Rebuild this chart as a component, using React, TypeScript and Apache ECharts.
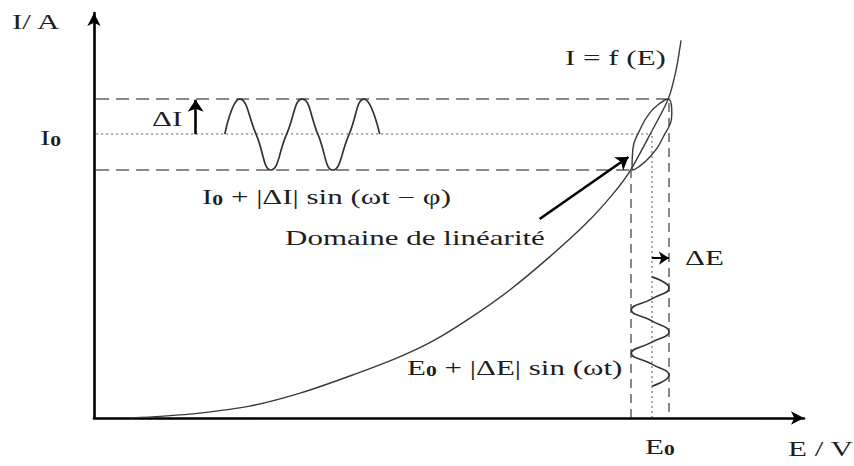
import React, { useEffect, useRef } from "react";
import * as echarts from "echarts";

// ---------- data (arbitrary units along E and I axes) ----------
const AXIS_E_MAX = 99.9;
const AXIS_I_MAX = 99.3;

// operating point and perturbation bounds
const E_LOW = 75.5;
const E0 = 78.5;
const E_HIGH = 80.9;
const I_LOW = 60.8;
const I0 = 69.6;
const I_HIGH = 78.2;

// I = f(E) characteristic
const curveE = [5.1, 9.3, 14.9, 21.9, 29.0, 36.0, 43.0, 47.7, 52.9, 58.5, 64.1, 69.3, 73.0, 75.5, 78.2, 80.8, 81.9, 82.6];
const curveI = [0.0, 0.4, 1.2, 2.9, 6.1, 10.3, 15.0, 18.9, 24.5, 31.4, 39.5, 47.8, 54.9, 60.8, 69.4, 78.2, 85.3, 92.6];

// current response wave (horizontal)
const respE = [18.4, 20.5, 22.8, 24.9, 27.1, 29.3, 31.5, 33.6, 35.9, 38.0, 40.2];
const respI = [69.6, 78.2, 69.6, 60.8, 69.6, 78.2, 69.6, 60.8, 69.6, 78.2, 69.6];

// potential perturbation wave (vertical)
const pertE = [78.5, 80.9, 78.5, 75.6, 78.5, 80.9, 78.5, 75.6, 78.5, 80.9, 78.5];
const pertI = [34.6, 31.9, 29.2, 26.5, 23.8, 21.1, 18.6, 15.9, 13.2, 10.5, 7.8];

// Lissajous loop
const loopE = [75.7, 75.8, 76.8, 78.2, 79.9, 80.8, 81.3, 80.0, 78.2, 76.4, 75.7];
const loopI = [60.8, 65.7, 70.6, 74.8, 77.5, 78.2, 74.8, 68.6, 64.0, 61.3, 60.8];

// annotation arrows [E1, I1, E2, I2]
const arrowDomaine = [62.7, 48.8, 75.2, 64.0];
const arrowDeltaI = [14.3, 69.6, 14.3, 78.0];
const arrowDeltaE = [78.5, 39.2, 80.9, 39.2];

const zip = (xs: number[], ys: number[]) => xs.map((x, i) => [x, ys[i]]);

const FONT = '"Liberation Serif", "Times New Roman", serif';
const FS = 20;
const SX = 1.55;
const INK = "#1e1e1e";

const richStyles = {
  n: { fontSize: FS, fontFamily: FONT, fill: INK, padding: [0, 0, 6, 0] },
  s: { fontSize: 14, fontFamily: FONT, fill: INK, fontWeight: "bold" as const },
};

function label(text: string, x: number, y: number) {
  return {
    type: "text",
    x,
    y,
    scaleX: SX,
    silent: true,
    style: {
      text,
      fill: INK,
      fontSize: FS,
      fontFamily: FONT,
      align: "left",
      verticalAlign: "middle",
      rich: richStyles,
    },
  };
}

export default function App() {
  const ref = useRef<HTMLDivElement>(null);

  useEffect(() => {
    if (!ref.current) return;
    const chart = echarts.init(ref.current, undefined, { renderer: "svg" });

    const thin = { color: "#3a3a3a", width: 1.4 };
    const guide = { color: "#111", width: 2 };

    chart.setOption({
      animation: false,
      backgroundColor: "#fff",
      grid: { left: 94, right: 50, top: 13, bottom: 48 },
      xAxis: {
        type: "value",
        min: 0,
        max: AXIS_E_MAX,
        axisLine: {
          show: true,
          onZero: false,
          symbol: ["none", "arrow"],
          symbolSize: [10, 13],
          lineStyle: { color: "#000", width: 2.6 },
        },
        axisTick: { show: false },
        axisLabel: { show: false },
        splitLine: { show: false },
      },
      yAxis: {
        type: "value",
        min: 0,
        max: AXIS_I_MAX,
        axisLine: {
          show: true,
          onZero: false,
          symbol: ["none", "arrow"],
          symbolSize: [10, 13],
          lineStyle: { color: "#000", width: 2.6 },
        },
        axisTick: { show: false },
        axisLabel: { show: false },
        splitLine: { show: false },
      },
      series: [
        {
          name: "I = f(E)",
          type: "line",
          data: zip(curveE, curveI),
          smooth: 0.25,
          showSymbol: false,
          lineStyle: thin,
        },
        {
          name: "loop",
          type: "line",
          data: zip(loopE, loopI),
          smooth: 0.5,
          showSymbol: false,
          lineStyle: thin,
        },
        {
          name: "response",
          type: "line",
          data: zip(respE, respI),
          smooth: 0.5,
          showSymbol: false,
          lineStyle: { color: "#333", width: 1.7 },
        },
        {
          name: "perturbation",
          type: "line",
          data: zip(pertE, pertI),
          smooth: 0.5,
          showSymbol: false,
          lineStyle: { color: "#333", width: 1.6 },
        },
        {
          type: "lines",
          coordinateSystem: "cartesian2d",
          silent: true,
          lineStyle: { ...guide, type: [13, 7] },
          data: [
            { coords: [[0.3, I_HIGH], [E_HIGH, I_HIGH]] },
            { coords: [[0.3, I_LOW], [E_LOW, I_LOW]] },
          ],
        },
        {
          type: "lines",
          coordinateSystem: "cartesian2d",
          silent: true,
          lineStyle: { ...guide, type: [9, 6] },
          data: [
            { coords: [[E_LOW, 0], [E_LOW, I_LOW]] },
            { coords: [[E_HIGH, 1.5], [E_HIGH, I_HIGH]] },
          ],
        },
        {
          type: "lines",
          coordinateSystem: "cartesian2d",
          silent: true,
          lineStyle: { color: "#222", width: 1.5, type: [2, 3] },
          data: [
            { coords: [[0.3, I0], [E0, I0]] },
            { coords: [[E0, 0], [E0, I0]] },
          ],
        },
        {
          type: "lines",
          coordinateSystem: "cartesian2d",
          silent: true,
          symbol: ["none", "arrow"],
          symbolSize: 12,
          lineStyle: { color: "#000", width: 2.6, opacity: 1 },
          data: [
            { coords: [[arrowDomaine[0], arrowDomaine[1]], [arrowDomaine[2], arrowDomaine[3]]] },
            { coords: [[arrowDeltaI[0], arrowDeltaI[1]], [arrowDeltaI[2], arrowDeltaI[3]]] },
          ],
        },
        {
          type: "lines",
          coordinateSystem: "cartesian2d",
          silent: true,
          symbol: ["none", "arrow"],
          symbolSize: 10,
          lineStyle: { color: "#000", width: 2, opacity: 1 },
          data: [
            { coords: [[arrowDeltaE[0], arrowDeltaE[1]], [arrowDeltaE[2], arrowDeltaE[3]]] },
          ],
        },
      ],
      graphic: [
        label("I/ A", 12, 22),
        label("{n|I}{s|0}", 40, 141),
        label("ΔI", 152, 119),
        label("{n|I}{s|0}{n| + |ΔI| sin (ωt − φ)}", 202, 200),
        label("Domaine de linéarité", 285, 238),
        label("{n|E}{s|0}{n| + |ΔE| sin (ωt)}", 407, 371),
        label("I = f (E)", 565, 58),
        label("ΔE", 685, 258),
        label("{n|E}{s|0}", 645, 450),
        label("E / V", 788, 449),
      ],
    });

    return () => chart.dispose();
  }, []);

  return (
    <div
      ref={ref}
      style={{ position: "fixed", left: 0, top: 0, width: 854, height: 466, background: "#fff" }}
    />
  );
}
